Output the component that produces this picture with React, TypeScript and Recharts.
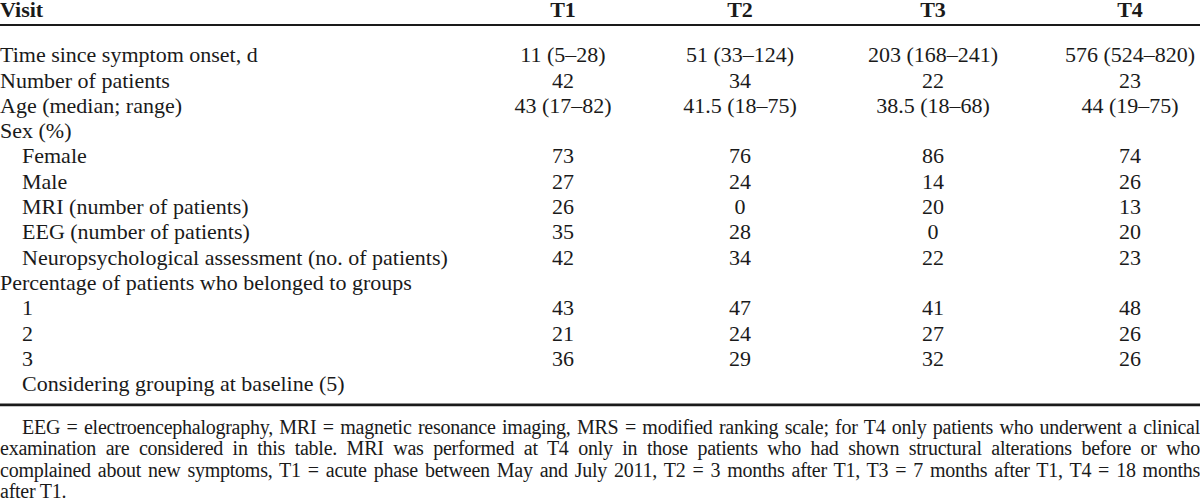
import { ScatterChart, Scatter, XAxis, YAxis, ReferenceLine } from 'recharts';

const VISITS = ['T1', 'T2', 'T3', 'T4'];

const ROW_LABELS = [
  'Time since symptom onset, d',
  'Number of patients',
  'Age (median; range)',
  'Sex (%)',
  'Female',
  'Male',
  'MRI (number of patients)',
  'EEG (number of patients)',
  'Neuropsychological assessment (no. of patients)',
  'Percentage of patients who belonged to groups',
  '1',
  '2',
  '3',
  'Considering grouping at baseline (5)',
];
const ROW_INDENT = [false, false, false, false, true, true, true, true, true, false, true, true, true, true];

const T1_VALUES = ['11 (5–28)', '42', '43 (17–82)', '', '73', '27', '26', '35', '42', '', '43', '21', '36', ''];
const T2_VALUES = ['51 (33–124)', '34', '41.5 (18–75)', '', '76', '24', '0', '28', '34', '', '47', '24', '29', ''];
const T3_VALUES = ['203 (168–241)', '22', '38.5 (18–68)', '', '86', '14', '20', '0', '22', '', '41', '27', '32', ''];
const T4_VALUES = ['576 (524–820)', '23', '44 (19–75)', '', '74', '26', '13', '20', '23', '', '48', '26', '26', ''];

const FOOTNOTE_LINES = [
  'EEG = electroencephalography, MRI = magnetic resonance imaging, MRS = modified ranking scale; for T4 only patients who underwent a clinical',
  'examination are considered in this table. MRI was performed at T4 only in those patients who had shown structural alterations before or who',
  'complained about new symptoms, T1 = acute phase between May and July 2011, T2 = 3 months after T1, T3 = 7 months after T1, T4 = 18 months',
  'after T1.',
];

// layout (pixels along the hidden x axis, row slots along the y axis)
const COL_X = [563, 740, 933, 1130];
const INDENT_X = 22;
const Y_DOMAIN = [-2.174, 14.03];
const HEADER_ROW = -1.8;
const TOP_RULE = -1.186;
const BOTTOM_RULE = 13.83;

const FONT = '"Liberation Serif", "Times New Roman", serif';
const INK = '#1a1a1a';

const columns = [T1_VALUES, T2_VALUES, T3_VALUES, T4_VALUES];

const labelData = ROW_LABELS.map((text, i) => ({ x: ROW_INDENT[i] ? INDENT_X : 0, y: i, text }));
const headerData = [{ x: 0, y: HEADER_ROW, text: 'Visit', anchor: 'start' }].concat(
  VISITS.map((v, i) => ({ x: COL_X[i], y: HEADER_ROW, text: v, anchor: 'middle' }))
);

function CellText(props: any) {
  const { cx, cy, payload, anchor, bold } = props;
  if (!payload || !payload.text) return <g />;
  return (
    <text
      x={cx}
      y={cy}
      dy="0.33em"
      textAnchor={payload.anchor || anchor}
      fontFamily={FONT}
      fontSize={22}
      fontWeight={bold ? 700 : 400}
      fill={INK}
    >
      {payload.text}
    </text>
  );
}

export default function App() {
  return (
    <div style={{ width: 1200, height: 503, background: '#fff', overflow: 'hidden' }}>
      <style>{'body{margin:0;}'}</style>
      <ScatterChart width={1200} height={410} margin={{ top: 0, right: 0, bottom: 0, left: 0 }}>
        <XAxis type="number" dataKey="x" domain={[0, 1200]} hide />
        <YAxis type="number" dataKey="y" domain={Y_DOMAIN} reversed hide />
        <ReferenceLine y={TOP_RULE} stroke={INK} strokeWidth={1.8} />
        <ReferenceLine y={BOTTOM_RULE} stroke={INK} strokeWidth={2.8} />
        <Scatter data={headerData} isAnimationActive={false} shape={(p: any) => <CellText {...p} bold />} />
        <Scatter data={labelData} isAnimationActive={false} shape={(p: any) => <CellText {...p} anchor="start" />} />
        {columns.map((vals, c) => (
          <Scatter
            key={VISITS[c]}
            data={vals.map((text, i) => ({ x: COL_X[c], y: i, text }))}
            isAnimationActive={false}
            shape={(p: any) => <CellText {...p} anchor="middle" />}
          />
        ))}
      </ScatterChart>
      <div style={{ fontFamily: FONT, fontSize: 20, letterSpacing: -0.25, lineHeight: '21.3px', color: INK, marginTop: 7 }}>
        {FOOTNOTE_LINES.map((line, i) => {
          const last = i === FOOTNOTE_LINES.length - 1;
          return (
            <div
              key={i}
              style={{
                textAlign: last ? 'left' : 'justify',
                textAlignLast: last ? 'left' : 'justify',
                textIndent: i === 0 ? 22 : 0,
                whiteSpace: 'nowrap',
              }}
            >
              {line}
            </div>
          );
        })}
      </div>
    </div>
  );
}
